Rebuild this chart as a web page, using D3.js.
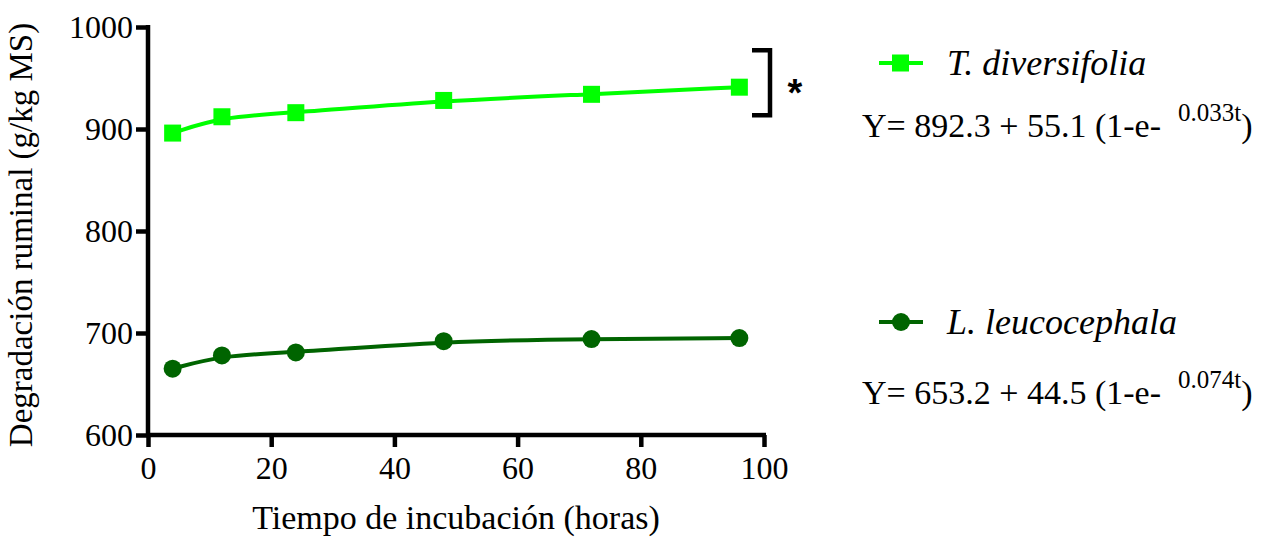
<!DOCTYPE html>
<html>
<head>
<meta charset="utf-8">
<script src="https://cdn.jsdelivr.net/npm/d3@7"></script>
<style>
  body { margin: 0; background: #fff; }
  text { font-family: "Liberation Serif", "Times New Roman", serif; fill: #000; }
</style>
</head>
<body>
<svg id="chart"></svg>
<script>
// Incubation times (h)
const hours = [4, 12, 24, 48, 72, 96];
// Ruminal degradation (g/kg MS)
const tDiversifolia = [896, 912, 916, 928, 934, 941];
const lLeucocephala = [665, 678, 681, 692, 694, 695];
const xTicks = [0, 20, 40, 60, 80, 100];
const yTicks = [600, 700, 800, 900, 1000];

const series = [
  { name: "T. diversifolia", values: tDiversifolia, color: "#00ff00", shape: "square",
    eq: "Y= 892.3 + 55.1 (1-e-", exp: "0.033t" },
  { name: "L. leucocephala", values: lLeucocephala, color: "#006400", shape: "circle",
    eq: "Y= 653.2 + 44.5 (1-e-", exp: "0.074t" }
];

const width = 1276, height = 542;
const margin = { top: 27, left: 148, right: 512, bottom: 107 };
const innerW = width - margin.left - margin.right;
const innerH = height - margin.top - margin.bottom;

const svg = d3.select("#chart").attr("width", width).attr("height", height);
const chart = svg.append("g").attr("transform", `translate(${margin.left},${margin.top})`);

const x = d3.scaleLinear().domain([0, 100]).range([0, innerW]);
const y = d3.scaleLinear().domain([600, 1000]).range([innerH, 0]);

// Axes
const xAxisG = chart.append("g")
  .attr("transform", `translate(0,${innerH})`)
  .call(d3.axisBottom(x).tickValues(xTicks).tickFormat(d3.format("d"))
    .tickSize(12).tickPadding(6).tickSizeOuter(0));
const yAxisG = chart.append("g")
  .call(d3.axisLeft(y).tickValues(yTicks).tickFormat(d3.format("d"))
    .tickSize(12).tickPadding(3).tickSizeOuter(0));

[xAxisG, yAxisG].forEach(g => {
  g.select(".domain").attr("stroke", "#000").attr("stroke-width", 4.5);
  g.selectAll(".tick line").attr("stroke", "#000").attr("stroke-width", 4.5);
  g.selectAll(".tick text").style("font-size", "32px").attr("fill", "#000");
});
xAxisG.select(".domain").attr("d", `M-2,0H${innerW + 2}`);
yAxisG.select(".domain").attr("d", `M0,-2V${innerH + 2}`);
xAxisG.selectAll(".tick text").attr("dy", "0.82em");
yAxisG.selectAll(".tick text").attr("dy", "0.34em");

// Axis titles
svg.append("text")
  .attr("x", margin.left + innerW / 2)
  .attr("y", 529)
  .attr("text-anchor", "middle")
  .style("font-size", "34px")
  .text("Tiempo de incubación (horas)");

svg.append("text")
  .attr("transform", `translate(32,${margin.top + innerH / 2 + 4}) rotate(-90)`)
  .attr("text-anchor", "middle")
  .style("font-size", "33px")
  .text("Degradación ruminal (g/kg MS)");

// Lines and markers
const line = d3.line()
  .x((d, i) => x(hours[i]))
  .y(d => y(d))
  .curve(d3.curveBasis);

series.forEach(s => {
  chart.append("path")
    .datum(s.values)
    .attr("d", line)
    .attr("fill", "none")
    .attr("stroke", s.color)
    .attr("stroke-width", 4);

  const pts = chart.selectAll(null).data(s.values).enter();
  if (s.shape === "square") {
    pts.append("rect")
      .attr("x", (d, i) => x(hours[i]) - 8.5)
      .attr("y", d => y(d) - 8.5)
      .attr("width", 17).attr("height", 17)
      .attr("fill", s.color);
  } else {
    pts.append("circle")
      .attr("cx", (d, i) => x(hours[i]))
      .attr("cy", d => y(d))
      .attr("r", 9)
      .attr("fill", s.color);
  }
});

// Significance bracket
const upperVals = series[0].values;
const bx = x(100) + 6;
const by1 = y(d3.max(upperVals)) - 37, by2 = y(d3.max(upperVals)) + 28;
svg.append("path")
  .attr("transform", `translate(${margin.left},${margin.top})`)
  .attr("d", `M${bx - 18},${by1}H${bx}V${by2}H${bx - 18}`)
  .attr("fill", "none").attr("stroke", "#000").attr("stroke-width", 4.5);
svg.append("text")
  .attr("x", margin.left + bx + 25)
  .attr("y", margin.top + (by1 + by2) / 2 + 23)
  .attr("text-anchor", "middle")
  .style("font-family", "'Liberation Sans', Arial, sans-serif")
  .style("font-weight", "bold")
  .style("font-size", "38px")
  .text("*");

// Legend with equations
const legendY = [63, 322];
const eqY = [137, 404];
series.forEach((s, i) => {
  const g = svg.append("g").attr("transform", `translate(879,${legendY[i]})`);
  g.append("line").attr("x1", 0).attr("x2", 44).attr("y1", 0).attr("y2", 0)
    .attr("stroke", s.color).attr("stroke-width", 4);
  if (s.shape === "square") {
    g.append("rect").attr("x", 13).attr("y", -8.5).attr("width", 17).attr("height", 17).attr("fill", s.color);
  } else {
    g.append("circle").attr("cx", 22).attr("cy", 0).attr("r", 9).attr("fill", s.color);
  }
  g.append("text").attr("x", 68).attr("y", 12)
    .style("font-size", "36px").style("font-style", "italic")
    .text(s.name);

  const eq = svg.append("text")
    .attr("x", 862).attr("y", eqY[i])
    .style("font-size", "34px");
  eq.append("tspan").text(s.eq + "\u00a0\u00a0");
  eq.append("tspan").attr("dy", -16).style("font-size", "25px").text(s.exp);
  eq.append("tspan").attr("dy", 16).text(")");
});
</script>
</body>
</html>
